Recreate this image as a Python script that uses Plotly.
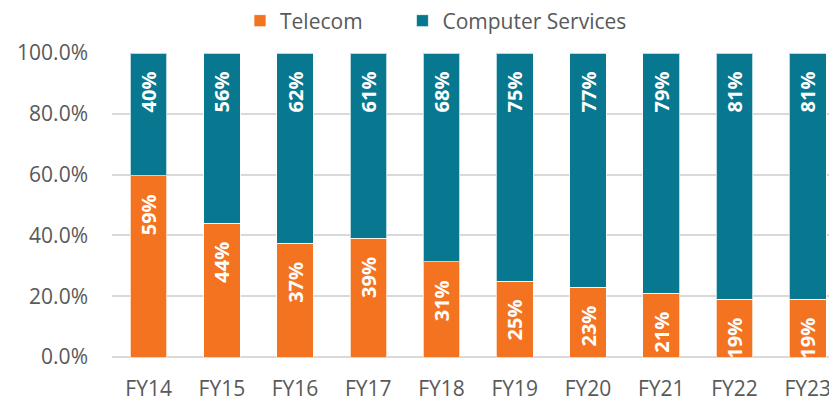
import plotly.graph_objects as go

years = ["FY14", "FY15", "FY16", "FY17", "FY18", "FY19", "FY20", "FY21", "FY22", "FY23"]
telecom = [59, 44, 37, 39, 31, 25, 23, 21, 19, 19]
computer_services = [40, 56, 62, 61, 68, 75, 77, 79, 81, 81]
series_names = ["Telecom" + "\u00a0" * 6 + "\u200a", "Computer Services"]

ORANGE = "#F37321"
TEAL = "#077890"
FONT = "Open Sans"
GRAY = "#595959"
PAD = "\u00a0\u00a0\u00a0"

# page has an 8px body margin, so the figure is drawn 8px smaller
W, H = 829, 393

fig = go.Figure()
for name, vals, col in [(series_names[0], telecom, ORANGE), (series_names[1], computer_services, TEAL)]:
    fig.add_trace(go.Bar(
        x=years, y=vals, name=name,
        marker=dict(color=col, line=dict(color="rgba(255,255,255,0.7)", width=1)),
        text=vals, texttemplate="%{text}%" + PAD,
        textposition="inside", insidetextanchor="end", textangle=-90,
        insidetextfont=dict(family=FONT, size=20, color="white", weight="bold"),
        constraintext="none",
        width=0.5,
    ))

fig.update_layout(
    barmode="stack", barnorm="percent",
    width=W, height=H,
    margin=dict(l=104, r=0, t=45, b=44, autoexpand=False),
    paper_bgcolor="white", plot_bgcolor="white",
    font=dict(family=FONT, size=21, color=GRAY),
    showlegend=True,
    legend=dict(orientation="h", xref="container", x=232 / W, xanchor="left",
                yref="container", y=1 - 13 / H, yanchor="middle",
                font=dict(family=FONT, size=21, color=GRAY), traceorder="normal"),
)
fig.update_xaxes(range=[-0.5, 9.4], showgrid=False, showline=False, ticks="",
                 automargin=False,
                 ticklabelstandoff=17, tickfont=dict(family=FONT, size=21, color=GRAY))
fig.update_yaxes(range=[0, 100], dtick=20, tickformat=".1f", ticksuffix="%",
                 automargin=False,
                 showgrid=True, gridcolor="#D9D9D9", gridwidth=1.5,
                 zeroline=True, zerolinecolor="#D9D9D9", zerolinewidth=1.5,
                 ticks="", ticklabelstandoff=23, tickfont=dict(family=FONT, size=21, color=GRAY))

fig.write_html("out.html")
